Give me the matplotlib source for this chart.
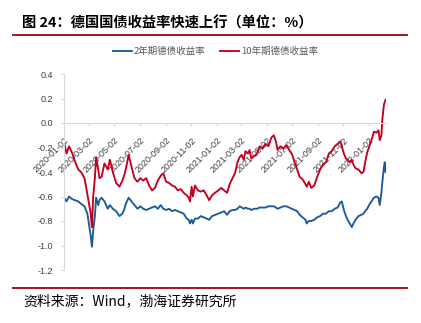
"""
German government bond yields, 2y vs 10y
"""

import numpy as np
import pandas as pd
import matplotlib
matplotlib.use("Agg")
import matplotlib.pyplot as plt
from matplotlib.lines import Line2D
from matplotlib.ticker import FormatStrFormatter

plt.rcParams['font.family'] = ['Noto Sans CJK SC', 'DejaVu Sans']

# observation dates (roughly weekly, denser around sharp moves)
dates = [
    '2020-01-02', '2020-01-08', '2020-01-14', '2020-01-21', '2020-01-28',
    '2020-02-05', '2020-02-12', '2020-02-20', '2020-02-27',
    '2020-03-03', '2020-03-06', '2020-03-09', '2020-03-12', '2020-03-16', '2020-03-19', '2020-03-24', '2020-03-27',
    '2020-04-01', '2020-04-08', '2020-04-16', '2020-04-21', '2020-04-28',
    '2020-05-06', '2020-05-14', '2020-05-21', '2020-05-26', '2020-05-29',
    '2020-06-05', '2020-06-12', '2020-06-19', '2020-06-26',
    '2020-07-03', '2020-07-10', '2020-07-17', '2020-07-24', '2020-07-31',
    '2020-08-07', '2020-08-14', '2020-08-21', '2020-08-27',
    '2020-09-03', '2020-09-10', '2020-09-17', '2020-09-24',
    '2020-10-01', '2020-10-08', '2020-10-15', '2020-10-22', '2020-10-27', '2020-10-30',
    '2020-11-03', '2020-11-06', '2020-11-11', '2020-11-18', '2020-11-25',
    '2020-12-02', '2020-12-09', '2020-12-15', '2020-12-22', '2020-12-29',
    '2021-01-06', '2021-01-13', '2021-01-20', '2021-01-27',
    '2021-02-02', '2021-02-09', '2021-02-15', '2021-02-21', '2021-02-26',
    '2021-03-03', '2021-03-08', '2021-03-12', '2021-03-18', '2021-03-22', '2021-03-26',
    '2021-04-02', '2021-04-09', '2021-04-15', '2021-04-22', '2021-04-29',
    '2021-05-06', '2021-05-13', '2021-05-19', '2021-05-24', '2021-05-28',
    '2021-06-04', '2021-06-11', '2021-06-18', '2021-06-25',
    '2021-07-01', '2021-07-08', '2021-07-14', '2021-07-20', '2021-07-27',
    '2021-08-03', '2021-08-06', '2021-08-11', '2021-08-17', '2021-08-24', '2021-08-31',
    '2021-09-07', '2021-09-14', '2021-09-21', '2021-09-28',
    '2021-10-05', '2021-10-12', '2021-10-19', '2021-10-25', '2021-10-29',
    '2021-11-03', '2021-11-08', '2021-11-12', '2021-11-17', '2021-11-22', '2021-11-26',
    '2021-12-01', '2021-12-08', '2021-12-15', '2021-12-20', '2021-12-24', '2021-12-29',
    '2022-01-04', '2022-01-10', '2022-01-14', '2022-01-20', '2022-01-25', '2022-01-28',
    '2022-02-01', '2022-02-03', '2022-02-07', '2022-02-09', '2022-02-11',
]

# 2-year yield, %
yield_2y = [
    -0.61, -0.64, -0.60, -0.62, -0.63,
    -0.64, -0.66, -0.68, -0.74,
    -0.85, -0.92, -1.01, -0.88, -0.76, -0.61, -0.67, -0.63,
    -0.61, -0.64, -0.70, -0.67, -0.70,
    -0.72, -0.76, -0.74, -0.70, -0.66,
    -0.61, -0.64, -0.67, -0.70,
    -0.68, -0.70, -0.71, -0.70, -0.69,
    -0.68, -0.70, -0.67, -0.70,
    -0.71, -0.70, -0.72, -0.71,
    -0.72, -0.73, -0.74, -0.78, -0.79, -0.82,
    -0.79, -0.82, -0.78, -0.78, -0.76,
    -0.77, -0.78, -0.79, -0.76, -0.75,
    -0.74, -0.73, -0.72, -0.75,
    -0.72, -0.71, -0.71, -0.70, -0.68,
    -0.69, -0.70, -0.69, -0.70, -0.70, -0.71,
    -0.70, -0.70, -0.69, -0.69, -0.69,
    -0.68, -0.68, -0.68, -0.69, -0.70,
    -0.69, -0.68, -0.68, -0.69,
    -0.70, -0.71, -0.72, -0.75, -0.77,
    -0.79, -0.82, -0.80, -0.80, -0.79, -0.77,
    -0.76, -0.74, -0.74, -0.72,
    -0.72, -0.70, -0.69, -0.65, -0.64,
    -0.71, -0.76, -0.79, -0.82, -0.85, -0.82,
    -0.79, -0.76, -0.75, -0.74, -0.72, -0.70,
    -0.66, -0.63, -0.61, -0.60, -0.61, -0.67,
    -0.57, -0.49, -0.36, -0.32, -0.40,
]

# 10-year yield, %
yield_10y = [
    -0.15, -0.25, -0.19, -0.24, -0.31,
    -0.38, -0.40, -0.45, -0.58,
    -0.68, -0.74, -0.85, -0.60, -0.45, -0.28, -0.38, -0.45,
    -0.44, -0.33, -0.38, -0.30, -0.40,
    -0.49, -0.52, -0.47, -0.42, -0.38,
    -0.26, -0.36, -0.45, -0.48,
    -0.45, -0.47, -0.45, -0.51, -0.55,
    -0.53, -0.47, -0.43, -0.41,
    -0.48, -0.49, -0.51, -0.52,
    -0.55, -0.54, -0.57, -0.59, -0.61, -0.64,
    -0.52, -0.60, -0.51, -0.55, -0.56,
    -0.55, -0.59, -0.63, -0.59, -0.57,
    -0.55, -0.53, -0.55, -0.57,
    -0.50, -0.45, -0.41, -0.32, -0.28,
    -0.26, -0.30, -0.23, -0.25, -0.22, -0.29,
    -0.27, -0.25, -0.19, -0.21, -0.17,
    -0.19, -0.12, -0.10, -0.15, -0.22,
    -0.19, -0.21, -0.18, -0.22,
    -0.25, -0.32, -0.38, -0.44, -0.46,
    -0.50, -0.52, -0.48, -0.53, -0.51, -0.44,
    -0.38, -0.34, -0.32, -0.25,
    -0.23, -0.19, -0.17, -0.15, -0.19,
    -0.25, -0.29, -0.30, -0.32, -0.30, -0.34,
    -0.37, -0.38, -0.41, -0.40, -0.32, -0.24,
    -0.18, -0.12, -0.07, -0.08, -0.06, -0.14,
    -0.10, 0.02, 0.15, 0.17, 0.19,
]

series_names = ['2年期德债收益率', '10年期德债收益率']
y_ticks = [-1.2, -1.0, -0.8, -0.6, -0.4, -0.2, 0.0, 0.2, 0.4]
tick_dates = pd.date_range('2020-01-02', '2022-01-02', freq=pd.DateOffset(months=2))

title = '图 24：德国国债收益率快速上行（单位：%）'
source = '资料来源：Wind，渤海证券研究所'

BLUE = '#1D5A98'
RED = '#C4001F'
RULE = '#A3161C'
GRID = '#D9D9D9'
TEXT = '#595959'
TICK_TEXT = '#404040'

W, H = 421, 323
fig = plt.figure(figsize=(W / 100, H / 100), dpi=100)
ax = fig.add_axes([64 / W, 1 - 270 / H, (386 - 64) / W, (270 - 74) / H])

d = pd.to_datetime(dates)
ax.plot(d, yield_2y, color=BLUE, lw=1.35, label=series_names[0])
ax.plot(d, yield_10y, color=RED, lw=1.35, label=series_names[1])

# x axis crosses at zero, like the spreadsheet default
# (set_position resets the ticks, so do it before styling them)
for side in ['top', 'right']:
    ax.spines[side].set_visible(False)
ax.spines['bottom'].set_position(('data', 0))
ax.spines['bottom'].set_color(GRID)
ax.spines['left'].set_color(GRID)

ax.set_xlim(d[0], d[-1] + pd.Timedelta(days=1))
ax.set_ylim(-1.2, 0.4)
ax.set_yticks(y_ticks)
ax.yaxis.set_major_formatter(FormatStrFormatter('%.1f'))
ax.set_xticks(tick_dates)
ax.set_xticklabels([t.strftime('%Y-%m-%d') for t in tick_dates])

ax.tick_params(axis='both', colors=GRID, labelcolor=TICK_TEXT, labelsize=6.5, length=2, width=0.8)
ax.tick_params(axis='x', pad=7, labelrotation=45)
ax.tick_params(axis='y', pad=6)
for lbl in ax.get_xticklabels():
    lbl.set_ha('right')
    lbl.set_va('top')
    lbl.set_rotation_mode('anchor')
for lbl in ax.get_xticklabels() + ax.get_yticklabels():
    lbl.set_fontfamily('Liberation Sans')

# header, rules, legend and source line
fig.text(22 / W, 1 - 23 / H, title, fontsize=10.3, fontweight='bold', va='center')
fig.add_artist(Line2D([13 / W, 407 / W], [1 - 34.5 / H] * 2, color=RULE, lw=1.4))
fig.add_artist(Line2D([13 / W, 407 / W], [1 - 288 / H] * 2, color=RULE, lw=1.4))
fig.legend(loc='center', bbox_to_anchor=(0.512, 1 - 51.5 / H), ncol=2, frameon=False,
           fontsize=6.8, handlelength=2.0, handletextpad=0.15, columnspacing=1.6,
           labelcolor=TEXT)
fig.text(23 / W, 1 - 301.5 / H, source, fontsize=10, style='italic', va='center')

fig.savefig('out.png', dpi=100)
